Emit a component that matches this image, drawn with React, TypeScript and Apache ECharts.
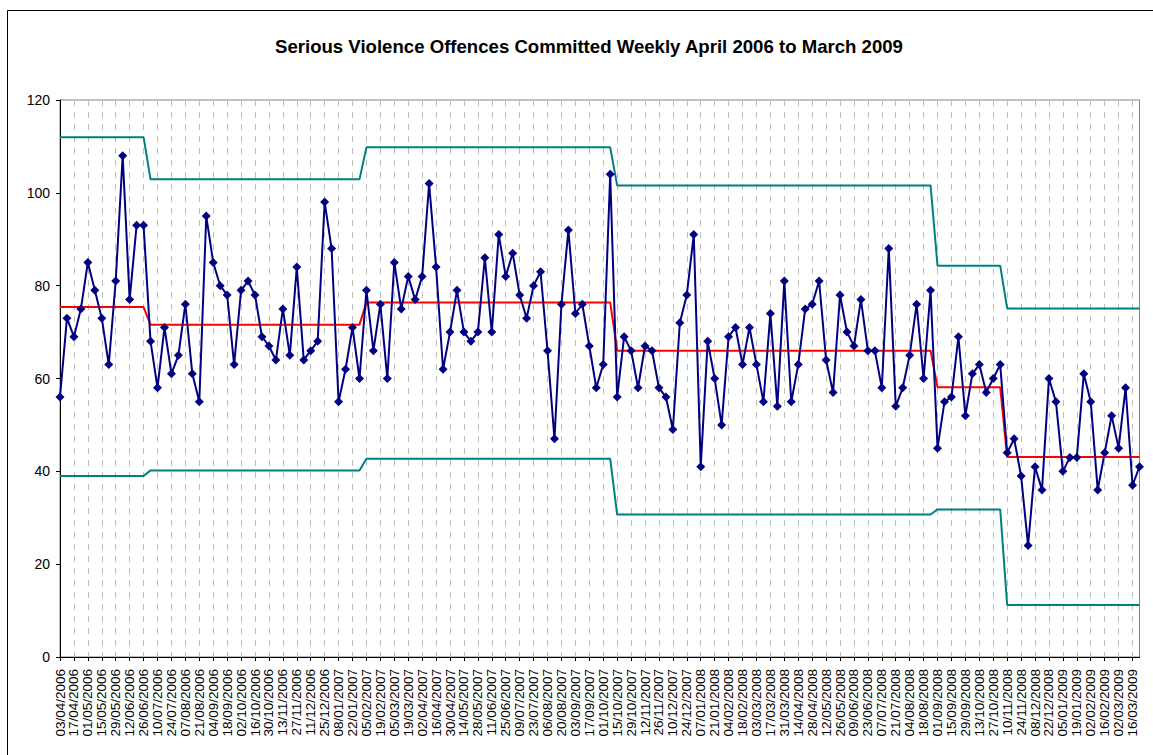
import React, { useEffect, useRef } from "react";
import * as echarts from "echarts";

const titleText = "Serious Violence Offences Committed Weekly April 2006 to March 2009";

const weeks: string[] = [
  "03/04/2006","10/04/2006","17/04/2006","24/04/2006","01/05/2006","08/05/2006","15/05/2006","22/05/2006","29/05/2006",
  "05/06/2006","12/06/2006","19/06/2006","26/06/2006","03/07/2006","10/07/2006","17/07/2006","24/07/2006","31/07/2006",
  "07/08/2006","14/08/2006","21/08/2006","28/08/2006","04/09/2006","11/09/2006","18/09/2006","25/09/2006",
  "02/10/2006","09/10/2006","16/10/2006","23/10/2006","30/10/2006","06/11/2006","13/11/2006","20/11/2006","27/11/2006",
  "04/12/2006","11/12/2006","18/12/2006","25/12/2006",
  "01/01/2007","08/01/2007","15/01/2007","22/01/2007","29/01/2007","05/02/2007","12/02/2007","19/02/2007","26/02/2007",
  "05/03/2007","12/03/2007","19/03/2007","26/03/2007","02/04/2007","09/04/2007","16/04/2007","23/04/2007","30/04/2007",
  "07/05/2007","14/05/2007","21/05/2007","28/05/2007","04/06/2007","11/06/2007","18/06/2007","25/06/2007",
  "02/07/2007","09/07/2007","16/07/2007","23/07/2007","30/07/2007","06/08/2007","13/08/2007","20/08/2007","27/08/2007",
  "03/09/2007","10/09/2007","17/09/2007","24/09/2007","01/10/2007","08/10/2007","15/10/2007","22/10/2007","29/10/2007",
  "05/11/2007","12/11/2007","19/11/2007","26/11/2007","03/12/2007","10/12/2007","17/12/2007","24/12/2007","31/12/2007",
  "07/01/2008","14/01/2008","21/01/2008","28/01/2008","04/02/2008","11/02/2008","18/02/2008","25/02/2008",
  "03/03/2008","10/03/2008","17/03/2008","24/03/2008","31/03/2008","07/04/2008","14/04/2008","21/04/2008","28/04/2008",
  "05/05/2008","12/05/2008","19/05/2008","26/05/2008","02/06/2008","09/06/2008","16/06/2008","23/06/2008","30/06/2008",
  "07/07/2008","14/07/2008","21/07/2008","28/07/2008","04/08/2008","11/08/2008","18/08/2008","25/08/2008",
  "01/09/2008","08/09/2008","15/09/2008","22/09/2008","29/09/2008","06/10/2008","13/10/2008","20/10/2008","27/10/2008",
  "03/11/2008","10/11/2008","17/11/2008","24/11/2008","01/12/2008","08/12/2008","15/12/2008","22/12/2008","29/12/2008",
  "05/01/2009","12/01/2009","19/01/2009","26/01/2009","02/02/2009","09/02/2009","16/02/2009","23/02/2009",
  "02/03/2009","09/03/2009","16/03/2009","23/03/2009",
];

const offences: number[] = [
  56, 73, 69, 75, 85, 79, 73, 63, 81, 108, 77, 93, 93,
  68, 58, 71, 61, 65, 76, 61, 55, 95, 85, 80, 78, 63, 79, 81, 78, 69, 67, 64, 75, 65, 84, 64, 66, 68, 98, 88, 55, 62, 71, 60,
  79, 66, 76, 60, 85, 75, 82, 77, 82, 102, 84, 62, 70, 79, 70, 68, 70, 86, 70, 91, 82, 87, 78, 73, 80, 83, 66, 47, 76, 92, 74, 76, 67, 58, 63, 104,
  56, 69, 66, 58, 67, 66, 58, 56, 49, 72, 78, 91, 41, 68, 60, 50, 69, 71, 63, 71, 63, 55, 74, 54, 81, 55, 63, 75, 76, 81, 64, 57, 78, 70, 67, 77, 66, 66, 58, 88, 54, 58, 65, 76, 60, 79,
  45, 55, 56, 69, 52, 61, 63, 57, 60, 63,
  44, 47, 39, 24, 41, 36, 60, 55, 40, 43, 43, 61, 55, 36, 44, 52, 45, 58, 37, 41,
];

// Control chart phases: first week index of each phase, and its mean / limits
const phaseStart: number[] = [0, 13, 44, 80, 126, 136];
const phaseMean: number[] = [75.4, 71.6, 76.4, 66.0, 58.1, 43.1];
const phaseUpper: number[] = [112.0, 102.9, 109.8, 101.6, 84.3, 75.1];
const phaseLower: number[] = [39.0, 40.2, 42.7, 30.7, 31.8, 11.2];

const yTicks = { min: 0, max: 120, interval: 20 };

function expand(levels: number[]): number[] {
  return weeks.map((_, i) => {
    let p = 0;
    for (let k = 0; k < phaseStart.length; k++) if (i >= phaseStart[k]) p = k;
    return levels[p];
  });
}

const FONT = "'Liberation Sans', Arial, sans-serif";

export default function App() {
  const ref = useRef<HTMLDivElement>(null);
  useEffect(() => {
    if (!ref.current) return;
    const chart = echarts.init(ref.current, undefined, { renderer: "svg" });
    chart.setOption({
      animation: false,
      backgroundColor: "#ffffff",
      title: {
        text: titleText,
        left: 270,
        top: 32,
        textStyle: { fontFamily: FONT, fontSize: 18.6, fontWeight: "bold", color: "#000000" },
      },
      graphic: [
        {
          type: "rect",
          shape: { x: 7.5, y: 10.5, width: 1200, height: 800 },
          style: { fill: "none", stroke: "#000000", lineWidth: 1 },
          silent: true,
          z: -10,
        },
      ],
      grid: {
        left: 60,
        top: 100,
        right: 13.5,
        bottom: 98,
        show: true,
        borderColor: "#808080",
        borderWidth: 1,
        backgroundColor: "transparent",
      },
      xAxis: {
        type: "category",
        data: weeks,
        boundaryGap: false,
        axisLine: { show: true, lineStyle: { color: "#000000", width: 1 } },
        axisTick: { show: true, interval: 1, length: 4, lineStyle: { color: "#000000" } },
        axisLabel: {
          interval: 1,
          rotate: 90,
          margin: 12,
          fontSize: 13.5,
          fontFamily: FONT,
          color: "#000000",
        },
        splitLine: {
          show: true,
          interval: 1,
          lineStyle: { color: "#bdbdbd", type: [6, 6], width: 1 },
        },
      },
      yAxis: {
        type: "value",
        min: yTicks.min,
        max: yTicks.max,
        interval: yTicks.interval,
        axisLine: { show: true, lineStyle: { color: "#000000", width: 1 } },
        axisTick: { show: true, length: 4, lineStyle: { color: "#000000" } },
        axisLabel: { fontSize: 14, fontFamily: FONT, color: "#000000", margin: 10 },
        splitLine: { show: false },
      },
      series: [
        {
          name: "Upper limit",
          type: "line",
          data: expand(phaseUpper),
          symbol: "none",
          lineStyle: { color: "#008080", width: 2 },
          itemStyle: { color: "#008080" },
          z: 2,
        },
        {
          name: "Lower limit",
          type: "line",
          data: expand(phaseLower),
          symbol: "none",
          lineStyle: { color: "#008080", width: 2 },
          itemStyle: { color: "#008080" },
          z: 2,
        },
        {
          name: "Mean",
          type: "line",
          data: expand(phaseMean),
          symbol: "none",
          lineStyle: { color: "#ff0000", width: 2 },
          itemStyle: { color: "#ff0000" },
          z: 3,
        },
        {
          name: "Offences",
          type: "line",
          data: offences,
          symbol: "diamond",
          symbolSize: 9,
          showAllSymbol: true,
          lineStyle: { color: "#000080", width: 2 },
          itemStyle: { color: "#000080" },
          z: 4,
        },
      ],
    });
    return () => chart.dispose();
  }, []);
  return (
    <div
      ref={ref}
      style={{ position: "absolute", left: 0, top: 0, width: 1153, height: 755, background: "#fff" }}
    />
  );
}
